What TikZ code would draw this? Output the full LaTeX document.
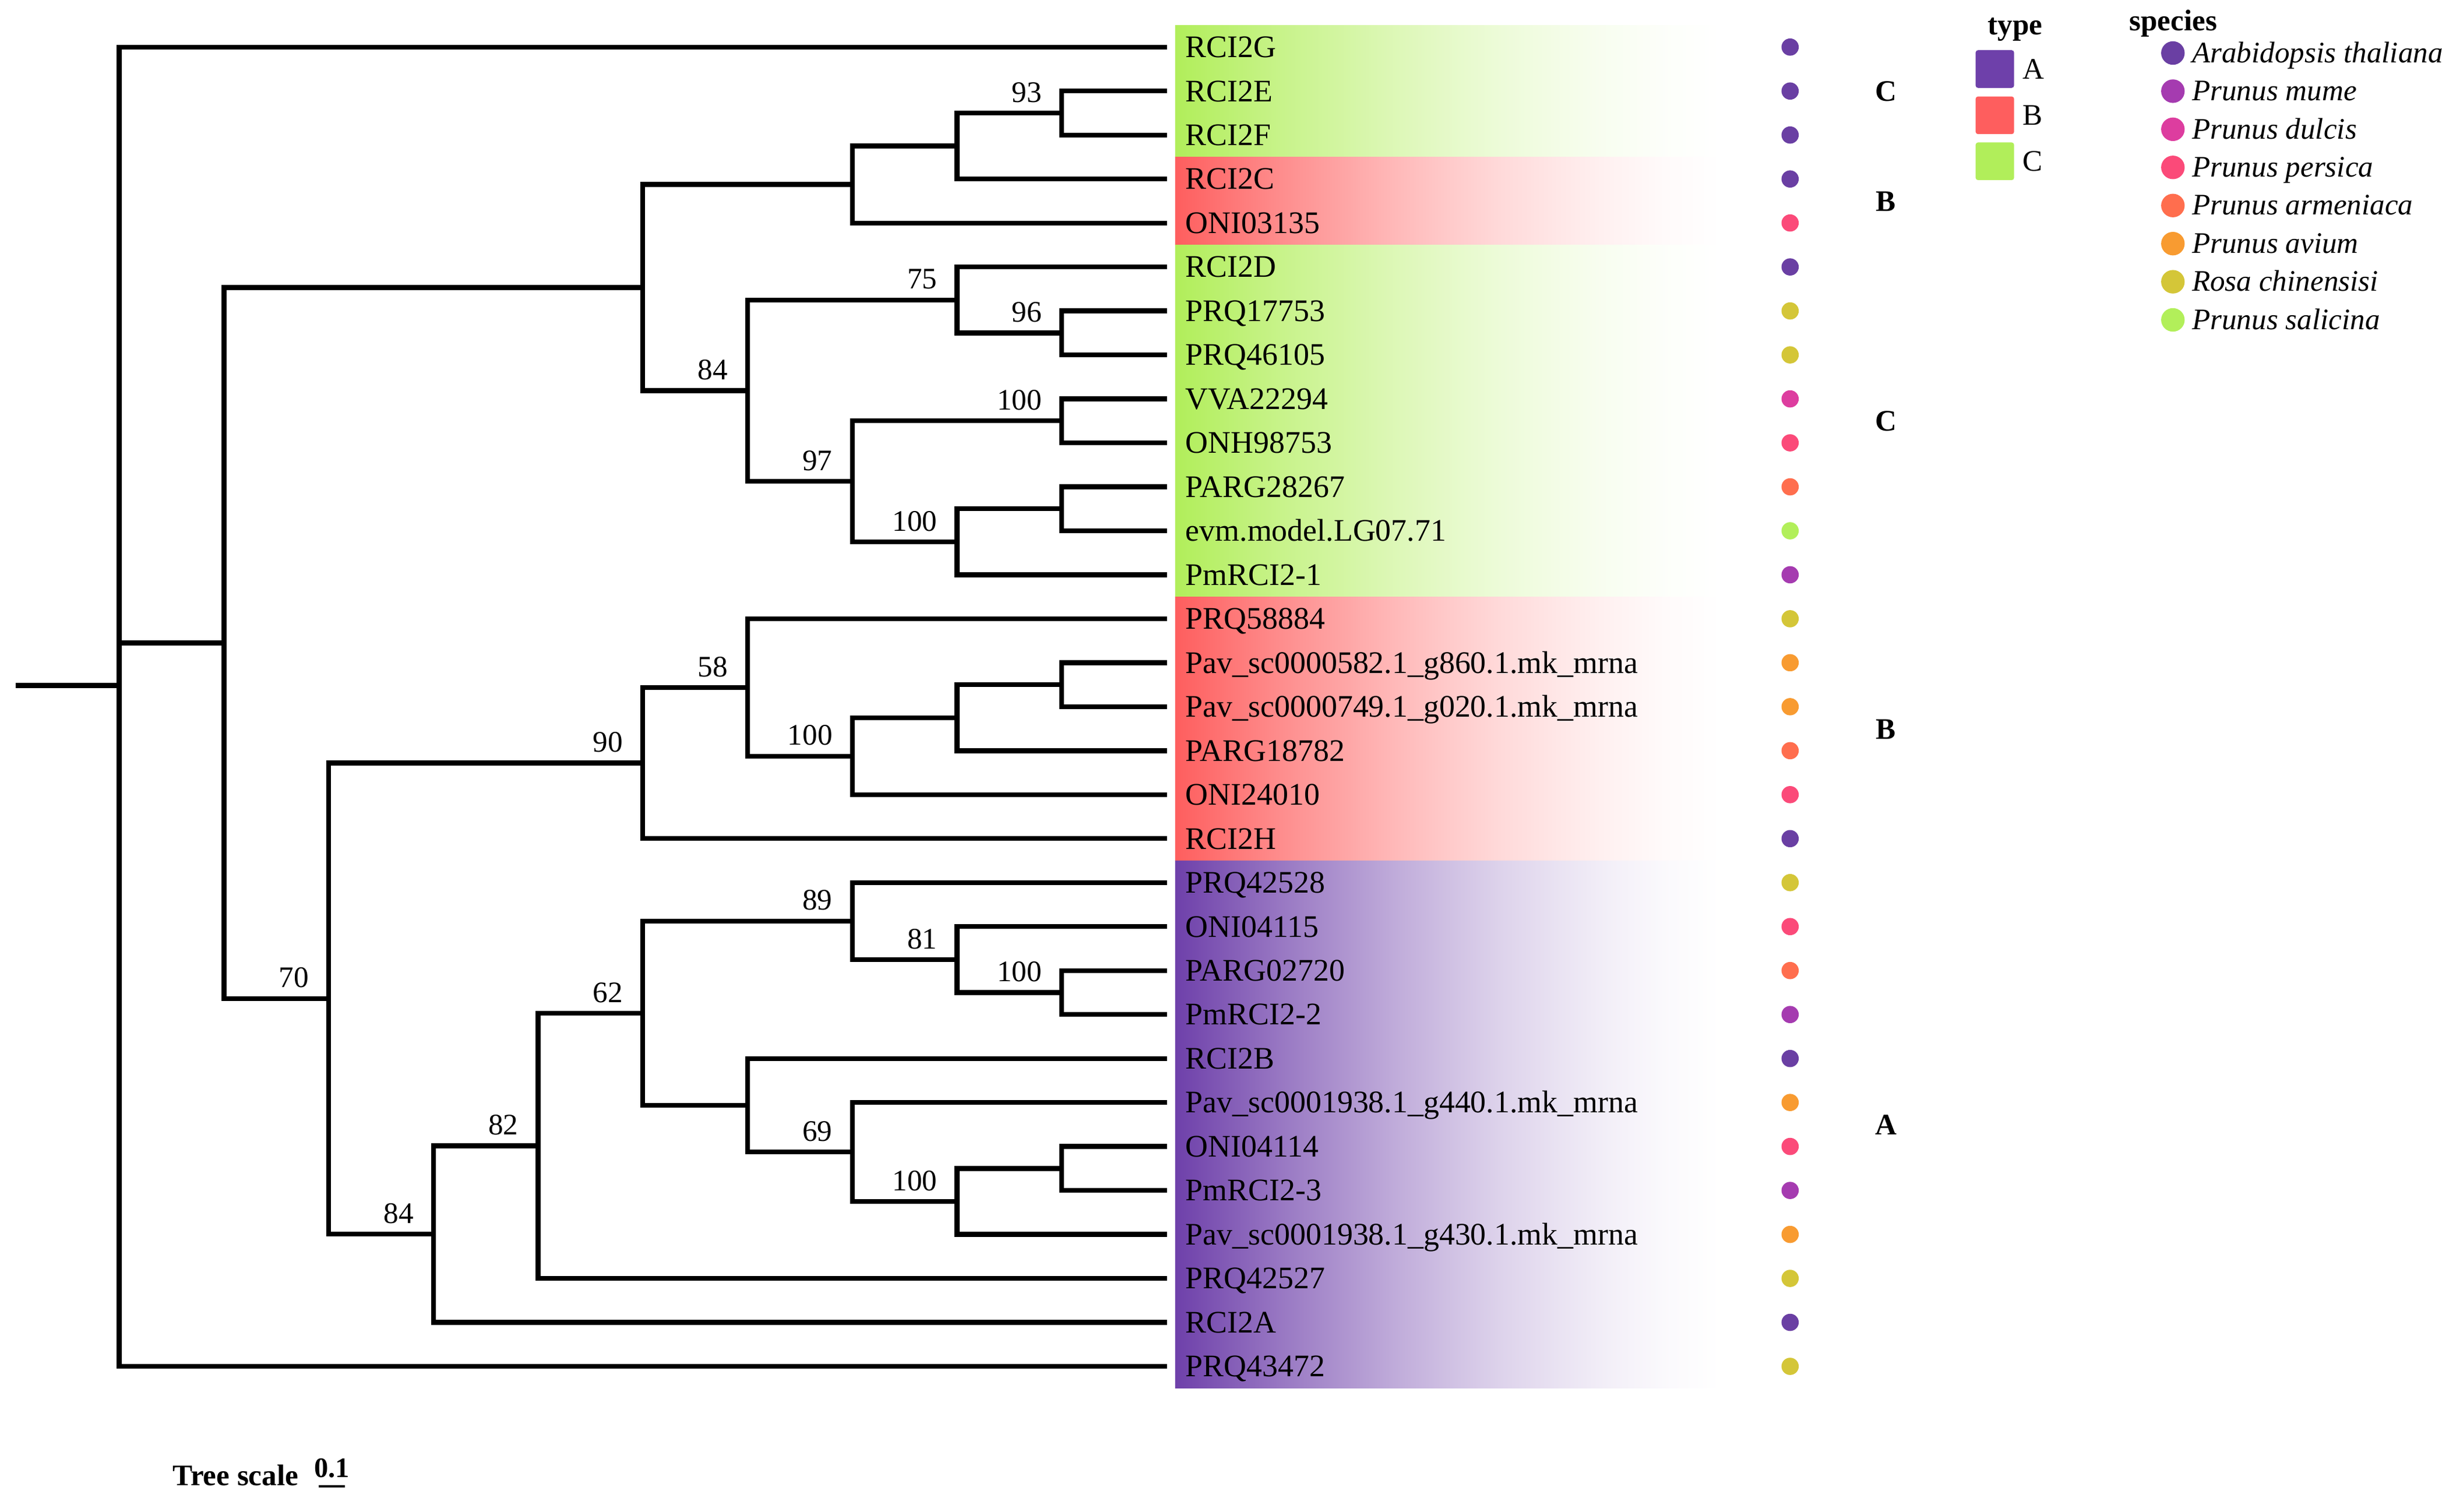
\documentclass[tikz,border=0pt]{standalone}
\usepackage{fontspec}
\setmainfont{Liberation Serif}
\usetikzlibrary{calc}

\definecolor{tA}{HTML}{6E40AA}
\definecolor{tB}{HTML}{FE5E5E}
\definecolor{tC}{HTML}{B1EE5A}
\definecolor{sAt}{HTML}{6A3FA3}
\definecolor{sPm}{HTML}{A53BB0}
\definecolor{sPd}{HTML}{DD3D9F}
\definecolor{sPp}{HTML}{FB4A79}
\definecolor{sPa}{HTML}{FF6E4E}
\definecolor{sPav}{HTML}{F89B31}
\definecolor{sRc}{HTML}{D4C638}
\definecolor{sPs}{HTML}{B2EF5A}

\newcommand\mkbandshade[2]{%
 \pgfdeclarehorizontalshading{#1}{100bp}{color(0bp)=(#2); color(25bp)=(#2); color(30bp)=(#2!85); color(35bp)=(#2!70); color(40bp)=(#2!57); color(45bp)=(#2!44); color(50bp)=(#2!33); color(55bp)=(#2!23); color(60bp)=(#2!15); color(65bp)=(#2!8); color(70bp)=(#2!3); color(75bp)=(white); color(100bp)=(white)}}
\mkbandshade{bandA}{tA}
\mkbandshade{bandB}{tB}
\mkbandshade{bandC}{tC}

\tikzset{
 br/.style={line width=3.1pt, line join=miter},
 leaflab/.style={anchor=base west, inner sep=0pt, yshift=-6.6pt, font=\fontsize{20}{24}\selectfont},
 spdot/.style={circle, inner sep=0pt, minimum size=11pt, draw=none},
 bs/.style={anchor=base east, inner sep=0pt, xshift=-12.5pt, yshift=7pt, font=\fontsize{19}{23}\selectfont},
 clade/.style={anchor=base, inner sep=0pt, yshift=-6.5pt, font=\fontsize{19}{23}\selectfont\bfseries},
 sq/.style={rectangle, minimum width=24.5pt, minimum height=24pt, rounded corners=1.5pt, inner sep=0pt, draw=none},
 leglab/.style={anchor=base west, inner sep=0pt, yshift=-6.3pt, font=\fontsize{19}{23}\selectfont},
 legdot/.style={circle, inner sep=0pt, minimum size=15pt, draw=none},
 legsp/.style={anchor=base west, inner sep=0pt, yshift=-6pt, font=\fontsize{19}{23}\selectfont\itshape},
 legtitle/.style={inner sep=0pt, font=\fontsize{19}{23}\selectfont\bfseries},
}

\newcommand\leaf[3]{%
 \coordinate (l#1) at (744,#1);
 \node[leaflab] (t#1) at (755.5,#1) {#2};
 \node[spdot,fill=#3] (d#1) at (1141,#1) {};
}

\begin{document}
\begin{tikzpicture}[x=1pt,y=-1pt]
\useasboundingbox (0,0) rectangle (1568,963.4);

\begin{scope}[yshift=-30pt, y=-28.03pt]
% colour bands
\shade[shading=bandC] (749,-0.5) rectangle (1097,2.5);
\shade[shading=bandB] (749,2.5) rectangle (1097,4.5);
\shade[shading=bandC] (749,4.5) rectangle (1097,12.5);
\shade[shading=bandB] (749,12.5) rectangle (1097,18.5);
\shade[shading=bandA] (749,18.5) rectangle (1097,30.5);

% leaves
\leaf{0}{RCI2G}{sAt}
\leaf{1}{RCI2E}{sAt}
\leaf{2}{RCI2F}{sAt}
\leaf{3}{RCI2C}{sAt}
\leaf{4}{ONI03135}{sPp}
\leaf{5}{RCI2D}{sAt}
\leaf{6}{PRQ17753}{sRc}
\leaf{7}{PRQ46105}{sRc}
\leaf{8}{VVA22294}{sPd}
\leaf{9}{ONH98753}{sPp}
\leaf{10}{PARG28267}{sPa}
\leaf{11}{evm.model.LG07.71}{sPs}
\leaf{12}{PmRCI2-1}{sPm}
\leaf{13}{PRQ58884}{sRc}
\leaf{14}{Pav\_sc0000582.1\_g860.1.mk\_mrna}{sPav}
\leaf{15}{Pav\_sc0000749.1\_g020.1.mk\_mrna}{sPav}
\leaf{16}{PARG18782}{sPa}
\leaf{17}{ONI24010}{sPp}
\leaf{18}{RCI2H}{sAt}
\leaf{19}{PRQ42528}{sRc}
\leaf{20}{ONI04115}{sPp}
\leaf{21}{PARG02720}{sPa}
\leaf{22}{PmRCI2-2}{sPm}
\leaf{23}{RCI2B}{sAt}
\leaf{24}{Pav\_sc0001938.1\_g440.1.mk\_mrna}{sPav}
\leaf{25}{ONI04114}{sPp}
\leaf{26}{PmRCI2-3}{sPm}
\leaf{27}{Pav\_sc0001938.1\_g430.1.mk\_mrna}{sPav}
\leaf{28}{PRQ42527}{sRc}
\leaf{29}{RCI2A}{sAt}
\leaf{30}{PRQ43472}{sRc}

% internal nodes
\coordinate (n0) at (76,14.517578);
\coordinate (root) at (10,14.517578);
\coordinate (n1) at (142.75,13.552734);
\coordinate (n2) at (409.75,5.46875);
\coordinate (n4) at (543.25,3.125);
\coordinate (n6) at (610,2.25);
\coordinate (nEF) at (676.75,1.5);
\coordinate (n5) at (476.5,7.8125);
\coordinate (n7) at (610,5.75);
\coordinate (n9) at (676.75,6.5);
\coordinate (n8) at (543.25,9.875);
\coordinate (n10) at (676.75,8.5);
\coordinate (n11) at (610,11.25);
\coordinate (n12) at (676.75,10.5);
\coordinate (n3) at (209.5,21.636719);
\coordinate (n13) at (409.75,16.28125);
\coordinate (n15) at (476.5,14.5625);
\coordinate (n16) at (543.25,16.125);
\coordinate (n17) at (610,15.25);
\coordinate (n18) at (676.75,14.5);
\coordinate (n14) at (276.25,26.992188);
\coordinate (n19) at (343,24.984375);
\coordinate (n20) at (409.75,21.96875);
\coordinate (n21) at (543.25,19.875);
\coordinate (n23) at (610,20.75);
\coordinate (n24) at (676.75,21.5);
\coordinate (n22) at (476.5,24.0625);
\coordinate (n25) at (543.25,25.125);
\coordinate (n26) at (610,26.25);
\coordinate (n27) at (676.75,25.5);

% branches
\draw[br] (root) -- (n0);
\draw[br] (l0) -| (n0) |- (l30);
\draw[br] (n0) |- (n1);
\draw[br] (n2) -| (n1) |- (n3);
\draw[br] (n4) -| (n2) |- (n5);
\draw[br] (n6) -| (n4) |- (l4);
\draw[br] (nEF) -| (n6) |- (l3);
\draw[br] (l1) -| (nEF) |- (l2);
\draw[br] (n7) -| (n5) |- (n8);
\draw[br] (l5) -| (n7) |- (n9);
\draw[br] (l6) -| (n9) |- (l7);
\draw[br] (n10) -| (n8) |- (n11);
\draw[br] (l8) -| (n10) |- (l9);
\draw[br] (n12) -| (n11) |- (l12);
\draw[br] (l10) -| (n12) |- (l11);
\draw[br] (n13) -| (n3) |- (n14);
\draw[br] (n15) -| (n13) |- (l18);
\draw[br] (l13) -| (n15) |- (n16);
\draw[br] (n17) -| (n16) |- (l17);
\draw[br] (n18) -| (n17) |- (l16);
\draw[br] (l14) -| (n18) |- (l15);
\draw[br] (n19) -| (n14) |- (l29);
\draw[br] (n20) -| (n19) |- (l28);
\draw[br] (n21) -| (n20) |- (n22);
\draw[br] (l19) -| (n21) |- (n23);
\draw[br] (l20) -| (n23) |- (n24);
\draw[br] (l21) -| (n24) |- (l22);
\draw[br] (l23) -| (n22) |- (n25);
\draw[br] (l24) -| (n25) |- (n26);
\draw[br] (n27) -| (n26) |- (l27);
\draw[br] (l25) -| (n27) |- (l26);

% bootstrap values
\node[bs] (bEF) at (nEF) {93};
\node[bs] (b9) at (n9) {96};
\node[bs] (b7) at (n7) {75};
\node[bs] (b5) at (n5) {84};
\node[bs] (b8) at (n8) {97};
\node[bs] (b10) at (n10) {100};
\node[bs] (b11) at (n11) {100};
\node[bs] (b13) at (n13) {90};
\node[bs] (b15) at (n15) {58};
\node[bs] (b16) at (n16) {100};
\node[bs] (b3) at (n3) {70};
\node[bs] (b14) at (n14) {84};
\node[bs] (b19) at (n19) {82};
\node[bs] (b20) at (n20) {62};
\node[bs] (b21) at (n21) {89};
\node[bs] (b23) at (n23) {81};
\node[bs] (b24) at (n24) {100};
\node[bs] (b25) at (n25) {69};
\node[bs] (b26) at (n26) {100};

% clade letters
\node[clade] (cl1) at (1202,1) {C};
\node[clade] (cl2) at (1202,3.5) {B};
\node[clade] (cl3) at (1202,8.5) {C};
\node[clade] (cl4) at (1202,15.5) {B};
\node[clade] (cl5) at (1202,24.5) {A};
\end{scope}

% type legend
\node[legtitle, anchor=base] (typeT) at (1284.5,22) {type};
\node[sq, fill=tA] (sqA) at (1271.5,44) {};
\node[sq, fill=tB] (sqB) at (1271.5,73.5) {};
\node[sq, fill=tC] (sqC) at (1271.5,102.8) {};
\node[leglab] (lgA) at (1289,44) {A};
\node[leglab] (lgB) at (1289,73.5) {B};
\node[leglab] (lgC) at (1289,102.8) {C};

% species legend
\node[legtitle, anchor=base west] (spT) at (1357,19.5) {species};
\node[legdot, fill=sAt] (sd1) at (1385,33.8) {};
\node[legdot, fill=sPm] (sd2) at (1385,58.1) {};
\node[legdot, fill=sPd] (sd3) at (1385,82.4) {};
\node[legdot, fill=sPp] (sd4) at (1385,106.7) {};
\node[legdot, fill=sPa] (sd5) at (1385,131.0) {};
\node[legdot, fill=sPav] (sd6) at (1385,155.3) {};
\node[legdot, fill=sRc] (sd7) at (1385,179.6) {};
\node[legdot, fill=sPs] (sd8) at (1385,203.9) {};
\node[legsp] (st1) at (1397,33.8) {Arabidopsis thaliana};
\node[legsp] (st2) at (1397,58.1) {Prunus mume};
\node[legsp] (st3) at (1397,82.4) {Prunus dulcis};
\node[legsp] (st4) at (1397,106.7) {Prunus persica};
\node[legsp] (st5) at (1397,131.0) {Prunus armeniaca};
\node[legsp] (st6) at (1397,155.3) {Prunus avium};
\node[legsp] (st7) at (1397,179.6) {Rosa chinensisi};
\node[legsp] (st8) at (1397,203.9) {Prunus salicina};

% tree scale
\node[legtitle, anchor=base west] (tsT) at (110,947) {Tree scale};
\coordinate (sb1) at (203,947.5);
\coordinate (sb2) at (220,947.5);
\draw[line width=1.5pt] (sb1) -- (sb2);
\node[inner sep=0pt, anchor=base, font=\fontsize{18}{22}\selectfont\bfseries] (tsV) at (211.5,941.5) {0.1};
\end{tikzpicture}
\end{document}
